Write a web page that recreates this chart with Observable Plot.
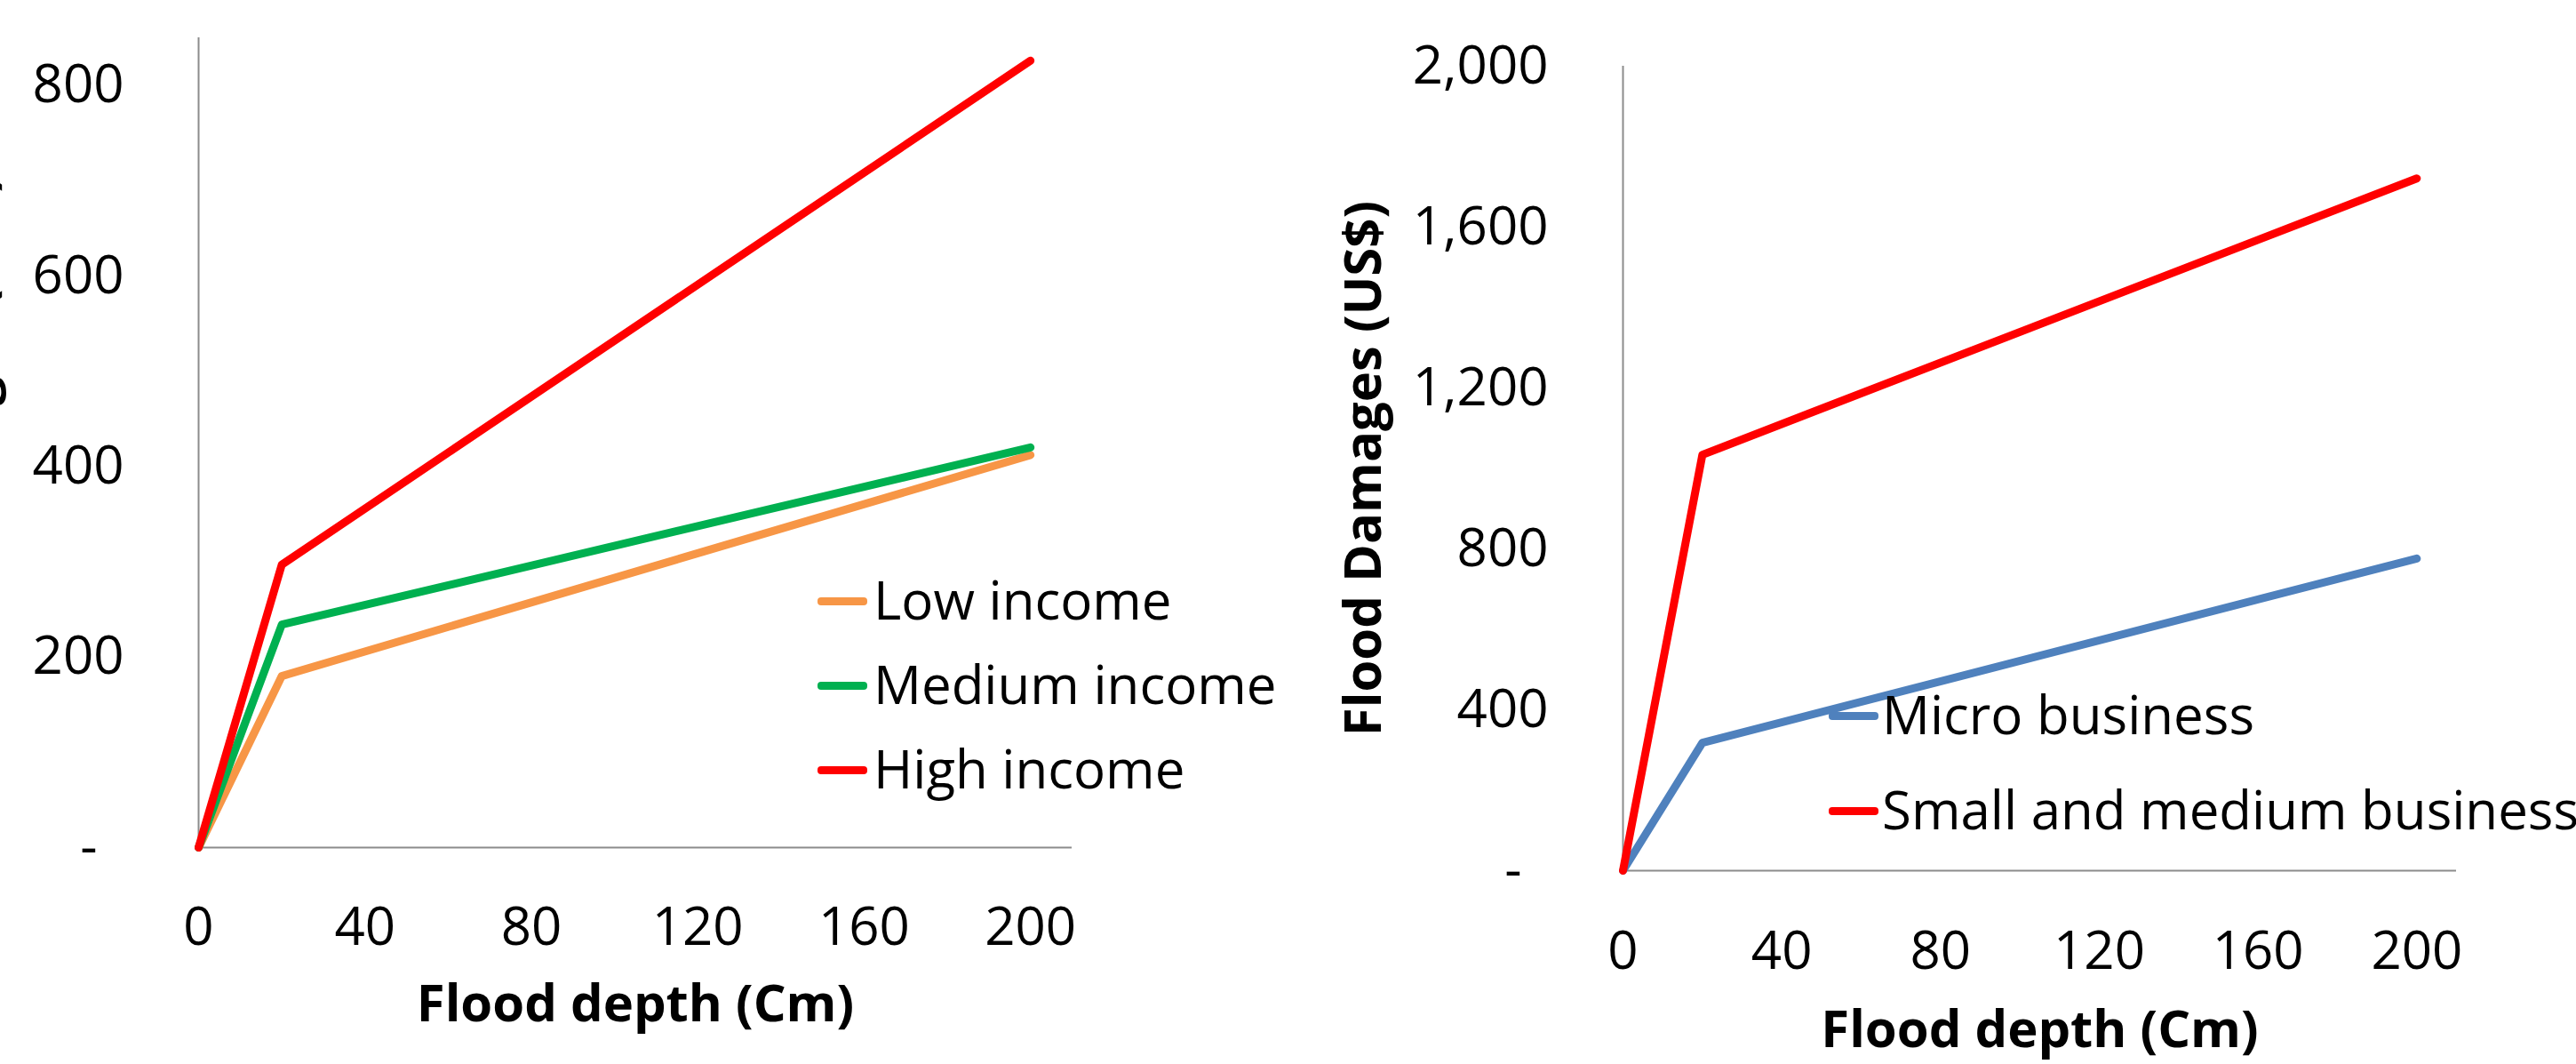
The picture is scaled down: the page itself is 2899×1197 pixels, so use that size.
<!DOCTYPE html>
<html>
<head>
<meta charset="utf-8">
<script src="https://cdn.jsdelivr.net/npm/d3@7"></script>
<script src="https://cdn.jsdelivr.net/npm/@observablehq/plot@0.6"></script>
<style>
  html, body { margin: 0; padding: 0; background: white; }
  #wrap { position: relative; width: 2899px; height: 1197px; overflow: hidden; background: white; }
  .panel { position: absolute; top: 0; }
  g[aria-label="x-axis label"] text, g[aria-label="y-axis label"] text { font-weight: bold; font-size: 58px; }
  .legend-item { position: absolute; height: 60px; font-family: "Open Sans", sans-serif; font-size: 60px; line-height: 60px; color: black; white-space: nowrap; }
  .legend-line { position: absolute; width: 56px; height: 9px; border-radius: 4px; }
</style>
</head>
<body>
<div id="wrap"></div>
<script>
// Shared x values (flood depth, cm)
const depth = [0, 20, 200];
const xTicks = [0, 40, 80, 120, 160, 200];

// Left chart: households
const householdSeries = ["Low income", "Medium income", "High income"];
const lowIncome = [0, 180, 412];
const mediumIncome = [0, 234, 420];
const highIncome = [0, 297, 826];
const householdColors = ["#F79646", "#00B050", "#FF0000"];
const yTicksLeft = [0, 200, 400, 600, 800];

// Right chart: businesses
const businessSeries = ["Micro business", "Small and medium business"];
const microBusiness = [0, 318, 776];
const smeBusiness = [0, 1034, 1721];
const businessColors = ["#4F81BD", "#FF0000"];
const yTicksRight = [0, 400, 800, 1200, 1600, 2000];

const xTitle = "Flood depth (Cm)";
const yTitle = "Flood Damages (US$)";

function toRows(names, valueArrays) {
  const rows = [];
  names.forEach((n, i) => depth.forEach((d, j) => rows.push({series: n, depth: d, value: valueArrays[i][j]})));
  return rows;
}
const householdRows = toRows(householdSeries, [lowIncome, mediumIncome, highIncome]);
const businessRows = toRows(businessSeries, [microBusiness, smeBusiness]);

const fmt = d => d === 0 ? "-\u2002" : d3.format(",")(d);
const baseStyle = {fontFamily: "Open Sans, sans-serif", fontSize: "60px", color: "black", background: "white", overflow: "hidden"};
const axisGray = "#8c8c8c";

function chart({width, marginLeft, marginRight, marginTop, marginBottom, yDomain, yTicks, rows, names, colors, tickPadX, labelOffX, labelOffY}) {
  return Plot.plot({
    width, height: 1197,
    marginLeft, marginRight, marginTop, marginBottom,
    style: baseStyle,
    x: {domain: [0, 210]},
    y: {domain: yDomain},
    color: {domain: names, range: colors},
    marks: [
      Plot.ruleX([0], {stroke: axisGray, strokeWidth: 2}),
      Plot.ruleY([0], {stroke: axisGray, strokeWidth: 2}),
      Plot.axisX({ticks: xTicks, tickSize: 0, tickPadding: tickPadX, label: xTitle, labelAnchor: "center", labelOffset: labelOffX, labelArrow: false}),
      Plot.axisY({ticks: yTicks, tickSize: 0, tickPadding: 84, tickFormat: fmt, label: yTitle, labelAnchor: "center", labelOffset: labelOffY, labelArrow: false}),
      Plot.line(rows, {x: "depth", y: "value", z: "series", stroke: "series", strokeWidth: 9, strokeLinecap: "round", strokeLinejoin: "round"})
    ]
  });
}

const wrap = document.getElementById("wrap");

const left = chart({width: 1450, marginLeft: 223, marginRight: 244, marginTop: 42, marginBottom: 244,
  yDomain: [0, 850], yTicks: yTicksLeft, rows: householdRows, names: householdSeries, colors: householdColors,
  tickPadX: 67, labelOffX: 195, labelOffY: 272});
left.classList.add("panel"); left.style.left = "0px";
wrap.appendChild(left);

const right = chart({width: 1449, marginLeft: 376, marginRight: 135, marginTop: 74, marginBottom: 218,
  yDomain: [0, 2000], yTicks: yTicksRight, rows: businessRows, names: businessSeries, colors: businessColors,
  tickPadX: 68, labelOffX: 198, labelOffY: 314});
right.classList.add("panel"); right.style.left = "1450px";
wrap.appendChild(right);

// Legends (HTML, overlaid)
function legend(names, colors, lineLeft, textLeft, rowsY) {
  names.forEach((n, i) => {
    const line = document.createElement("div");
    line.className = "legend-line";
    line.style.background = colors[i];
    line.style.left = lineLeft + "px";
    line.style.top = (rowsY[i] - 4.5) + "px";
    wrap.appendChild(line);
    const t = document.createElement("div");
    t.className = "legend-item";
    t.textContent = n;
    t.style.left = textLeft + "px";
    t.style.top = (rowsY[i] - 32) + "px";
    wrap.appendChild(t);
  });
}
legend(householdSeries, householdColors, 920, 983, [676, 771, 866]);
legend(businessSeries, businessColors, 2058, 2118, [805, 912]);
</script>
</body>
</html>
